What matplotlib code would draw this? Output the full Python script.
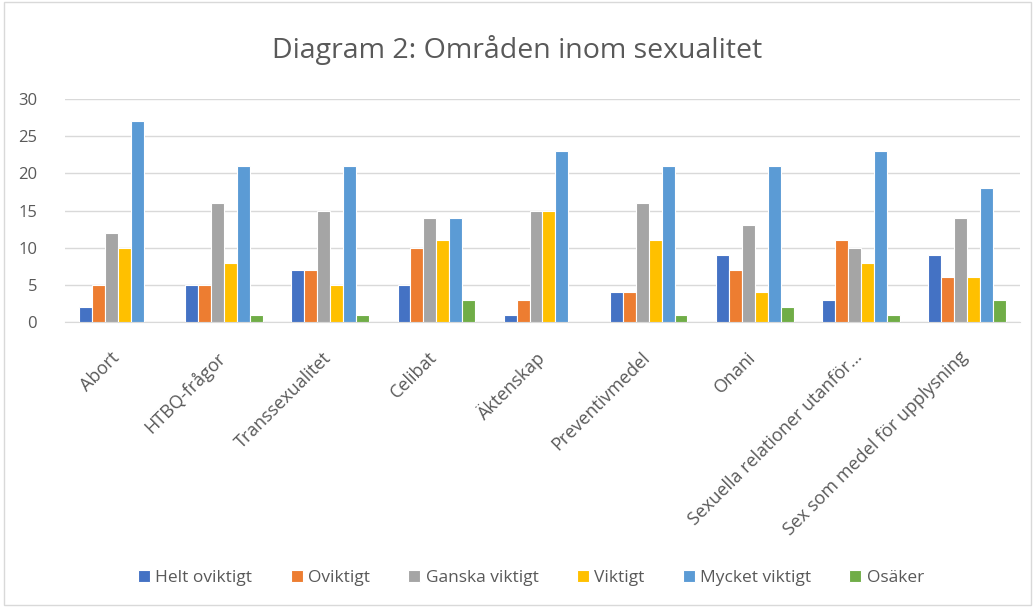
import matplotlib
matplotlib.use("Agg")
import matplotlib.pyplot as plt
import matplotlib.transforms as mtransforms
import numpy as np
from matplotlib.patches import Rectangle

categories = ["Abort", "HTBQ-frågor", "Transsexualitet", "Celibat", "Äktenskap",
              "Preventivmedel", "Onani", "Sexuella relationer utanför…",
              "Sex som medel för upplysning"]
series_names = ["Helt oviktigt", "Oviktigt", "Ganska viktigt", "Viktigt",
                "Mycket viktigt", "Osäker"]
helt_oviktigt = [2, 5, 7, 5, 1, 4, 9, 3, 9]
oviktigt = [5, 5, 7, 10, 3, 4, 7, 11, 6]
ganska_viktigt = [12, 16, 15, 14, 15, 16, 13, 10, 14]
viktigt = [10, 8, 5, 11, 15, 11, 4, 8, 6]
mycket_viktigt = [27, 21, 21, 14, 23, 21, 21, 23, 18]
osaker = [0, 1, 1, 3, 0, 1, 2, 1, 3]
yticks = [0, 5, 10, 15, 20, 25, 30]

series = [helt_oviktigt, oviktigt, ganska_viktigt, viktigt, mycket_viktigt, osaker]
colors = ["#4472C4", "#ED7D31", "#A5A5A5", "#FFC000", "#5B9BD5", "#70AD47"]

plt.rcParams['font.family'] = ['Open Sans', 'DejaVu Sans']

fig = plt.figure(figsize=(10.35, 6.07), dpi=100)
ax = fig.add_axes([65/1035, 1 - 322/607, (1020-65)/1035, (322-99)/607])

fig.patches.append(Rectangle((0.004, 0.004), 0.992, 0.992, transform=fig.transFigure,
                             fill=False, edgecolor="#d9d9d9", linewidth=1))

n = len(categories)
x = np.arange(n)
bw = 0.122
for i, (vals, c, name) in enumerate(zip(series, colors, series_names)):
    ax.bar(x + (i - 2.5) * bw, vals, width=bw, color=c, edgecolor="white",
           linewidth=0.8, label=name, zorder=3)

ax.set_xlim(-0.5, n - 0.5)
ax.set_ylim(0, 30)
ax.set_yticks(yticks)
ax.yaxis.grid(True, color="#d9d9d9", linewidth=1, zorder=0)
for s in ["top", "right", "left"]:
    ax.spines[s].set_visible(False)
ax.spines["bottom"].set_color("#d9d9d9")
ax.tick_params(axis="both", length=0, colors="#595959", labelsize=12)
ax.tick_params(axis="y", pad=20)
ax.set_xticks(x)
ax.set_xticklabels(categories, rotation=45, ha="right", rotation_mode="anchor",
                   fontsize=13, color="#595959")
ax.tick_params(axis="x", pad=19)
offset = mtransforms.ScaledTranslation(-8/100, 0, fig.dpi_scale_trans)
for lbl in ax.get_xticklabels():
    lbl.set_transform(lbl.get_transform() + offset)

fig.text(0.5, 1 - 50/607, "Diagram 2: Områden inom sexualitet", ha="center",
         va="center", fontsize=20.5, color="#595959")

fig.legend(loc="center", bbox_to_anchor=(0.513, 1 - 578/607), ncol=6, frameon=False,
           fontsize=12.5, handlelength=0.7, handleheight=0.7, handletextpad=0.3,
           columnspacing=2.2, labelcolor="#595959")

fig.savefig("out.png", dpi=100)
